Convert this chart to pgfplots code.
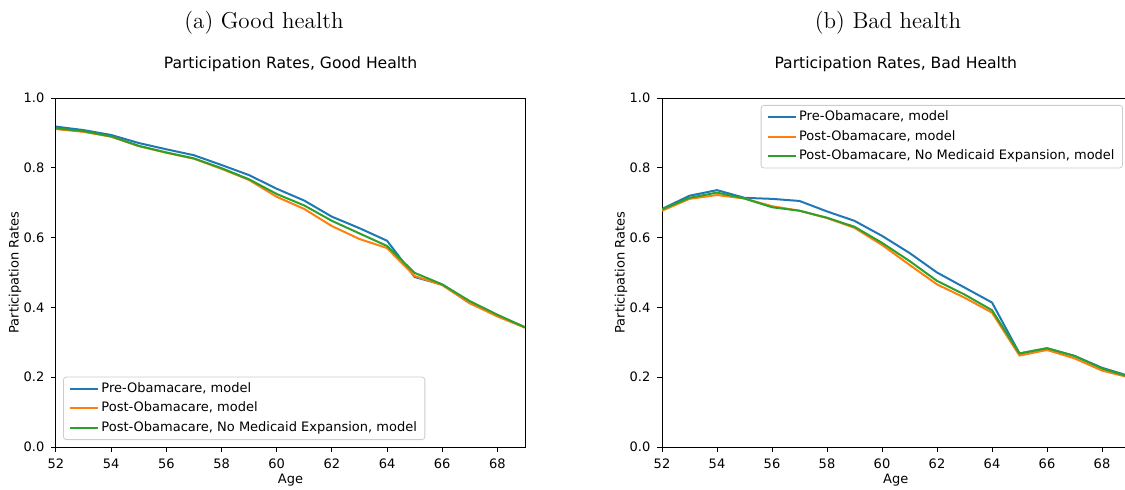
\documentclass[border=0pt]{standalone}
\usepackage{pgfplots}
\pgfplotsset{compat=1.18}
\usepackage{pgfplotstable}
\usepackage{fontspec}
\newfontfamily\dv{DejaVu Sans}
\definecolor{cA}{HTML}{1F77B4}
\definecolor{cB}{HTML}{FF7F0E}
\definecolor{cC}{HTML}{2CA02C}

\pgfplotstableread{
age pre post nome
52 0.918 0.911 0.913
53 0.908 0.903 0.905
54 0.894 0.889 0.890
55 0.871 0.862 0.863
56 0.853 0.843 0.844
57 0.836 0.826 0.827
58 0.808 0.797 0.799
59 0.779 0.765 0.767
60 0.740 0.717 0.725
61 0.706 0.682 0.692
62 0.660 0.633 0.648
63 0.627 0.596 0.612
64 0.591 0.570 0.576
65 0.487 0.490 0.499
66 0.465 0.464 0.466
67 0.412 0.412 0.418
68 0.377 0.374 0.379
69 0.343 0.342 0.343
}\good

\pgfplotstableread{
age pre post nome
52 0.682 0.677 0.681
53 0.720 0.711 0.714
54 0.736 0.722 0.729
55 0.714 0.712 0.712
56 0.711 0.690 0.687
57 0.705 0.677 0.677
58 0.675 0.656 0.657
59 0.648 0.628 0.631
60 0.605 0.579 0.585
61 0.556 0.522 0.533
62 0.500 0.466 0.476
63 0.457 0.428 0.437
64 0.414 0.385 0.392
65 0.268 0.262 0.268
66 0.283 0.278 0.283
67 0.261 0.254 0.261
68 0.227 0.219 0.225
69 0.203 0.199 0.201
}\bad

\pgfplotsset{myax/.style={
  scale only axis, width=234.5pt, height=174.5pt,
  xmin=52, xmax=69, ymin=0, ymax=1,
  xtick={52,54,56,58,60,62,64,66,68},
  ytick={0,0.2,0.4,0.6,0.8,1.0},
  tick align=outside, tick pos=left, major tick length=2.3pt,
  axis line style={line width=0.5pt},
  every tick/.style={black, line width=0.5pt},
  /pgf/number format/assume math mode=true,
  ticklabel style={font=\dv\fontsize{6.5}{7.5}\selectfont},
  yticklabel style={/pgf/number format/.cd,fixed,fixed zerofill,precision=1},
  label style={font=\dv\fontsize{6.5}{7.5}\selectfont},
  xlabel={Age}, ylabel={Participation Rates},
  xlabel style={at={(axis description cs:0.5,0)}, anchor=center, yshift=-16.5pt},
  ylabel style={at={(axis description cs:0,0.5)}, anchor=center, yshift=20.5pt},
  title style={font=\dv\fontsize{7.8}{9}\selectfont, at={(0.5,1)}, anchor=base, yshift=9pt},
  legend style={font=\dv\fontsize{6.5}{7.5}\selectfont, draw=black!20, rounded corners=1.5pt,
    row sep=1.2pt, inner xsep=3pt, inner ysep=1.8pt, nodes={inner sep=1pt}},
  legend cell align=left,
  legend image code/.code={\draw[##1,line width=1pt] (1pt,0pt) -- (15pt,0pt);},
  every axis plot/.append style={line width=1pt},
}}

\begin{document}
\begin{tikzpicture}
\useasboundingbox (0,0) rectangle (562.5pt,244.5pt);
\node[font=\fontsize{11.5}{13}\selectfont, anchor=base] at (132pt,230.5pt) {(a) Good health};
\node[font=\fontsize{11.5}{13}\selectfont, anchor=base] at (444pt,230.5pt) {(b) Bad health};

\begin{axis}[myax, at={(28pt,21pt)}, anchor=south west,
  title={Participation Rates, Good Health},
  legend style={at={(0.015,0.02)}, anchor=south west}]
\addplot[cA] table[x=age,y=pre]{\good};
\addplot[cB] table[x=age,y=post]{\good};
\addplot[cC] table[x=age,y=nome]{\good};
\legend{{Pre-Obamacare, model},{Post-Obamacare, model},{Post-Obamacare, No Medicaid Expansion, model}}
\end{axis}

\begin{axis}[myax, at={(331pt,21pt)}, anchor=south west, width=233.75pt,
  title={Participation Rates, Bad Health},
  legend style={at={(0.986,0.98)}, anchor=north east}]
\addplot[cA] table[x=age,y=pre]{\bad};
\addplot[cB] table[x=age,y=post]{\bad};
\addplot[cC] table[x=age,y=nome]{\bad};
\legend{{Pre-Obamacare, model},{Post-Obamacare, model},{Post-Obamacare, No Medicaid Expansion, model}}
\end{axis}
\end{tikzpicture}
\end{document}
